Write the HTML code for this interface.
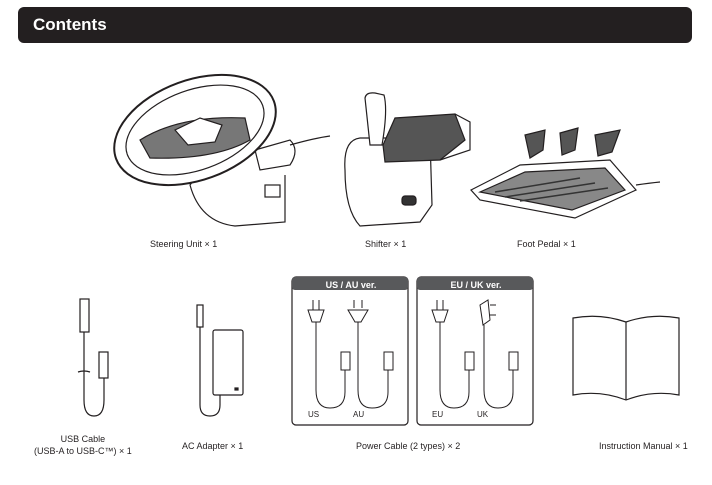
<!DOCTYPE html>
<html><head><meta charset="utf-8"><style>
body{margin:0;background:#fff;width:712px;height:485px;overflow:hidden;font-family:"Liberation Sans",Arial,sans-serif;position:relative}
.hdr{position:absolute;left:18px;top:7px;width:674px;height:36px;background:#231f20;border-radius:6px}
.hdr span{position:absolute;left:15px;top:8px;color:#fff;font-weight:bold;font-size:17px}
.lbl{position:absolute;font-size:9px;color:#231f20;text-align:center;white-space:nowrap}
</style></head><body>
<div class="hdr"><span>Contents</span></div>
<svg width="712" height="485" style="position:absolute;left:0;top:0" fill="none" stroke="#231f20" stroke-width="1.2">
<!-- steering wheel -->
<path d="M205 165 L190 185 Q200 222 235 226 L285 222 L285 175" fill="#fff"/>
<path d="M255 150 L290 140 Q300 150 290 165 L260 170Z" fill="#fff"/>
<path d="M290 145 Q315 138 330 136"/>
<ellipse cx="195" cy="130" rx="84" ry="50" transform="rotate(-20 195 130)" stroke-width="2" fill="#fff"/>
<ellipse cx="195" cy="130" rx="72" ry="40" transform="rotate(-20 195 130)"/>
<path d="M140 140 Q180 115 245 118 L250 140 Q215 160 150 158Z" fill="#777"/>
<path d="M175 130 L200 118 L222 125 L215 142 L188 145Z" fill="#fff"/>
<rect x="265" y="185" width="15" height="12" fill="#fff"/>
<!-- shifter -->
<path d="M345 170 Q343 140 360 138 L430 138 L432 205 L420 222 L360 226 Q345 210 345 170Z" fill="#fff"/>
<path d="M365 98 Q366 92 375 93 L384 95 Q388 110 382 145 L370 145 Z" fill="#fff"/>
<path d="M383 145 L395 118 L455 114 L465 140 L440 160 L385 162Z" fill="#555"/>
<path d="M455 114 L470 122 L470 150 L440 160"/>
<rect x="402" y="196" width="14" height="9" rx="3" fill="#333"/>
<!-- pedal -->
<path d="M471 190 L520 165 L610 160 L636 190 L575 218 L480 200Z" fill="#fff"/>
<path d="M480 192 L525 172 L605 168 L625 190 L572 210Z" fill="#888"/>
<g stroke="#333" stroke-width="1.5"><path d="M495 192 L580 178 M505 197 L595 183 M520 201 L608 188"/></g>
<path d="M525 135 L545 130 L543 150 L530 158Z" fill="#555"/>
<path d="M560 133 L578 128 L575 150 L562 155Z" fill="#555"/>
<path d="M595 135 L620 130 L612 152 L598 156Z" fill="#555"/>
<path d="M636 185 Q650 183 660 182"/>
<!-- USB -->
<rect x="80" y="299" width="9" height="33" fill="#fff"/>
<path d="M84 332 L84 400 Q84 416 94 416 Q104 416 104 400 L104 378"/>
<rect x="99" y="352" width="9" height="26" fill="#fff"/>
<path d="M78 372 Q84 370 90 372"/>
<!-- AC adapter -->
<rect x="197" y="305" width="6" height="22"/>
<path d="M200 327 L200 405 Q200 416 210 416 Q220 416 220 405 L220 395"/>
<rect x="213" y="330" width="30" height="65" rx="2" fill="#fff"/>
<rect x="235" y="388" width="3" height="2" fill="#231f20"/>
<!-- power cable boxes -->
<rect x="292" y="277" width="116" height="148" rx="4"/>
<rect x="292" y="277" width="116" height="13" rx="3" fill="#58595b" stroke="none"/>
<rect x="417" y="277" width="116" height="148" rx="4"/>
<rect x="417" y="277" width="116" height="13" rx="3" fill="#58595b" stroke="none"/>
<g stroke-width="1">
<path d="M313 300 V310 M319 300 V310 M308 310 H324 L320 322 H312Z"/>
<path d="M316 322 V390 Q316 408 330 408 Q345 408 345 392 V370"/>
<rect x="341" y="352" width="9" height="18"/>
<path d="M354 300 V308 M362 300 V308 M348 310 H368 L361 322 H355Z"/>
<path d="M358 322 V390 Q358 408 372 408 Q388 408 388 392 V370"/>
<rect x="384" y="352" width="9" height="18"/>
<path d="M437 300 V310 M443 300 V310 M432 310 H448 L444 322 H436Z"/>
<path d="M440 322 V390 Q440 408 454 408 Q469 408 469 392 V370"/>
<rect x="465" y="352" width="9" height="18"/>
<path d="M480 305 L488 300 L490 320 L483 325Z M490 305 H496 M490 315 H496"/>
<path d="M484 325 V390 Q484 408 498 408 Q513 408 513 392 V370"/>
<rect x="509" y="352" width="9" height="18"/>
</g>
<!-- manual -->
<path d="M573 318 Q600 313 626 322 Q652 313 679 318 L679 395 Q652 390 626 400 Q600 390 573 395Z" fill="#fff"/>
<path d="M626 322 V400"/>
</svg>
<div class="lbl" style="left:298px;top:280px;color:#fff;font-weight:bold;font-size:9px;width:106px">US / AU ver.</div>
<div class="lbl" style="left:423px;top:280px;color:#fff;font-weight:bold;font-size:9px;width:106px">EU / UK ver.</div>
<div class="lbl" style="left:308px;top:410px;font-size:8px">US</div>
<div class="lbl" style="left:353px;top:410px;font-size:8px">AU</div>
<div class="lbl" style="left:432px;top:410px;font-size:8px">EU</div>
<div class="lbl" style="left:477px;top:410px;font-size:8px">UK</div>
<div class="lbl" style="left:150px;top:239px">Steering Unit × 1</div>
<div class="lbl" style="left:365px;top:239px">Shifter × 1</div>
<div class="lbl" style="left:517px;top:239px">Foot Pedal × 1</div>
<div class="lbl" style="left:34px;top:433px;line-height:12px">USB Cable<br>(USB-A to USB-C™) × 1</div>
<div class="lbl" style="left:182px;top:441px">AC Adapter × 1</div>
<div class="lbl" style="left:356px;top:441px">Power Cable (2 types) × 2</div>
<div class="lbl" style="left:599px;top:441px">Instruction Manual × 1</div>
</body></html>
